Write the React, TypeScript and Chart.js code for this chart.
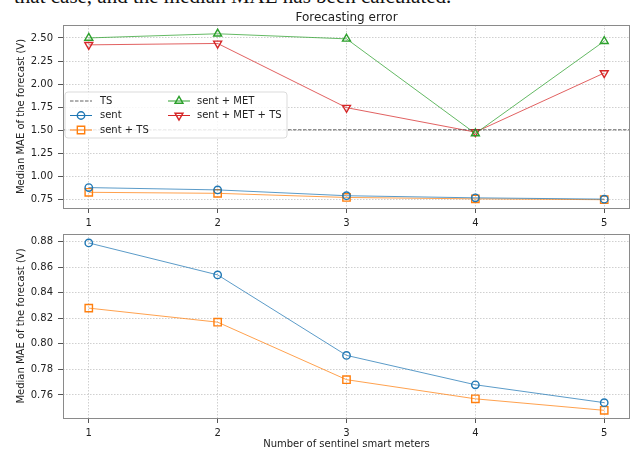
import React, { useEffect, useRef } from 'react';
import { Chart, registerables } from 'chart.js';

Chart.register(...registerables);

// ---- data ----
const xValues = [1, 2, 3, 4, 5];
const sentValues = [0.879, 0.854, 0.791, 0.768, 0.754];
const sentTsValues = [0.828, 0.817, 0.772, 0.757, 0.748];
const sentMetValues = [2.5, 2.545, 2.49, 1.465, 2.465];
const sentMetTsValues = [2.425, 2.44, 1.745, 1.48, 2.12];
const tsValue = 1.505;

const xTicks = [1, 2, 3, 4, 5];
const topYTicks = [0.75, 1.0, 1.25, 1.5, 1.75, 2.0, 2.25, 2.5];
const bottomYTicks = [0.76, 0.78, 0.8, 0.82, 0.84, 0.86, 0.88];

const xRange = [0.8, 5.2];
const topYRange = [0.658, 2.64];
const bottomYRange = [0.742, 0.886];

const titleText = 'Forecasting error';
const yTitleText = 'Median MAE of the forecast (V)';
const xTitleText = 'Number of sentinel smart meters';
const captionText = 'that case, and the median MAE has been calculated.';

const labels = {
  ts: 'TS',
  sent: 'sent',
  sentTs: 'sent + TS',
  sentMet: 'sent + MET',
  sentMetTs: 'sent + MET + TS',
};

const COLORS = {
  blue: '#1f77b4',
  orange: '#ff7f0e',
  green: '#2ca02c',
  red: '#d62728',
  gray: 'rgba(70,70,70,0.85)',
};

const FONT = 'DejaVu Sans';

const toPts = (ys: number[]) => xValues.map((x, i) => ({ x, y: ys[i] }));

function series(label: string, ys: number[], color: string, style: string, radius: number, rotation = 0) {
  return {
    label,
    data: toPts(ys),
    borderColor: color + 'bb',
    borderWidth: 1,
    pointStyle: style,
    pointRadius: radius,
    pointRotation: rotation,
    pointBorderColor: color,
    pointBorderWidth: 1.4,
    pointBackgroundColor: 'rgba(0,0,0,0)',
    tension: 0,
    clip: 8,
  };
}

type LegendEntry = { label: string; color: string; style: string; dashed?: boolean; rotation?: number; radius?: number };

const legendCol1: LegendEntry[] = [
  { label: labels.ts, color: COLORS.gray, style: 'none', dashed: true },
  { label: labels.sent, color: COLORS.blue, style: 'circle', radius: 3.7 },
  { label: labels.sentTs, color: COLORS.orange, style: 'rect', radius: 5.2 },
];
const legendCol2: LegendEntry[] = [
  { label: labels.sentMet, color: COLORS.green, style: 'triangle', radius: 4.6 },
  { label: labels.sentMetTs, color: COLORS.red, style: 'triangle', radius: 4.6, rotation: 180 },
];

function drawMarker(ctx: CanvasRenderingContext2D, style: string, radius: number, rotation: number, x: number, y: number) {
  ctx.beginPath();
  if (style === 'circle') {
    ctx.arc(x, y, radius, 0, Math.PI * 2);
  } else if (style === 'rect') {
    const s = Math.SQRT1_2 * radius;
    ctx.rect(x - s, y - s, 2 * s, 2 * s);
  } else if (style === 'triangle') {
    let ang = (rotation * Math.PI) / 180;
    ctx.moveTo(x + Math.sin(ang) * radius, y - Math.cos(ang) * radius);
    ang += (2 * Math.PI) / 3;
    ctx.lineTo(x + Math.sin(ang) * radius, y - Math.cos(ang) * radius);
    ang += (2 * Math.PI) / 3;
    ctx.lineTo(x + Math.sin(ang) * radius, y - Math.cos(ang) * radius);
    ctx.closePath();
  }
  ctx.stroke();
}

function framePlugin(id: string) {
  return {
    id,
    afterDatasetsDraw(chart: any) {
      const { ctx, chartArea: a } = chart;
      ctx.save();
      ctx.strokeStyle = '#8a8a8a';
      ctx.lineWidth = 1;
      ctx.strokeRect(Math.round(a.left) + 0.5, Math.round(a.top) + 0.5, Math.round(a.right - a.left) - 1, Math.round(a.bottom - a.top));
      ctx.restore();
    },
  };
}

const titlePlugin = {
  id: 'topTitle',
  afterDraw(chart: any) {
    const { ctx, chartArea: a } = chart;
    ctx.save();
    ctx.font = `12px "${FONT}"`;
    ctx.fillStyle = '#222';
    ctx.textAlign = 'center';
    ctx.textBaseline = 'middle';
    ctx.fillText(titleText, (a.left + a.right) / 2, a.top - 7);
    ctx.restore();
  },
};

const legendPlugin = {
  id: 'innerLegend',
  afterDatasetsDraw(chart: any) {
    const { ctx, chartArea: a } = chart;
    const left = a.left + 2;
    const top = a.top + 67;
    const w = 222;
    const h = 46;
    ctx.save();
    ctx.beginPath();
    const r = 3;
    ctx.moveTo(left + r, top);
    ctx.arcTo(left + w, top, left + w, top + h, r);
    ctx.arcTo(left + w, top + h, left, top + h, r);
    ctx.arcTo(left, top + h, left, top, r);
    ctx.arcTo(left, top, left + w, top, r);
    ctx.closePath();
    ctx.fillStyle = 'rgba(255,255,255,0.85)';
    ctx.fill();
    ctx.strokeStyle = 'rgba(215,215,215,0.9)';
    ctx.lineWidth = 1;
    ctx.stroke();

    const drawCol = (entries: LegendEntry[], hx: number, tx: number) => {
      entries.forEach((e, i) => {
        const y = top + 9 + i * 14.5;
        ctx.save();
        ctx.strokeStyle = e.color;
        ctx.lineWidth = 1;
        if (e.dashed) ctx.setLineDash([3.5, 1.5]);
        ctx.beginPath();
        ctx.moveTo(hx, y);
        ctx.lineTo(hx + 22, y);
        ctx.stroke();
        ctx.restore();
        if (e.style !== 'none') {
          ctx.save();
          ctx.strokeStyle = e.color;
          ctx.lineWidth = 1.4;
          drawMarker(ctx, e.style, e.radius || 4, e.rotation || 0, hx + 11, y);
          ctx.restore();
        }
        ctx.save();
        ctx.font = `10px "${FONT}"`;
        ctx.fillStyle = '#222';
        ctx.textBaseline = 'middle';
        ctx.textAlign = 'left';
        ctx.fillText(e.label, tx, y);
        ctx.restore();
      });
    };
    drawCol(legendCol1, left + 5, left + 35);
    drawCol(legendCol2, left + 103, left + 132);
    ctx.restore();
  },
};

function makeOptions(opts: {
  yTicks: number[];
  yRange: number[];
  padTop: number;
  xAxisHeight: number;
  showXTitle: boolean;
}) {
  const gridCommon = {
    color: 'rgba(165,165,165,0.65)',
    lineWidth: 0.8,
    borderDash: [1.5, 1.5],
    tickColor: '#555',
    tickLength: 5,
    tickWidth: 1,
    tickBorderDash: [],
    drawTicks: true,
  };
  return {
    responsive: false,
    animation: false as const,
    devicePixelRatio: 1,
    layout: { autoPadding: false, padding: { top: opts.padTop, right: 2, left: 0, bottom: 0 } },
    plugins: { legend: { display: false }, tooltip: { enabled: false }, title: { display: false } },
    scales: {
      x: {
        type: 'linear' as const,
        min: xRange[0],
        max: xRange[1],
        afterBuildTicks: (s: any) => {
          s.ticks = xTicks.map((v) => ({ value: v }));
        },
        afterFit: (s: any) => {
          s.height = opts.xAxisHeight;
          s.paddingLeft = 0;
          s.paddingRight = 0;
        },
        ticks: {
          callback: (v: any) => String(v),
          font: { family: FONT, size: 10 },
          color: '#222',
          padding: 4,
          maxRotation: 0,
        },
        grid: gridCommon,
        border: { display: false, dash: [1.5, 1.5] },
        title: {
          display: opts.showXTitle,
          text: xTitleText,
          font: { family: FONT, size: 10 },
          color: '#222',
          padding: { top: 0, bottom: 0 },
        },
      },
      y: {
        type: 'linear' as const,
        min: opts.yRange[0],
        max: opts.yRange[1],
        afterBuildTicks: (s: any) => {
          s.ticks = opts.yTicks.map((v) => ({ value: v }));
        },
        afterFit: (s: any) => {
          s.width = 63;
          s.paddingTop = 0;
          s.paddingBottom = 0;
        },
        ticks: {
          callback: (v: any) => Number(v).toFixed(2),
          font: { family: FONT, size: 10 },
          color: '#222',
          padding: 5,
        },
        grid: gridCommon,
        border: { display: false, dash: [1.5, 1.5] },
        title: {
          display: true,
          text: yTitleText,
          font: { family: FONT, size: 10 },
          color: '#222',
          padding: { top: 15, bottom: 0 },
        },
      },
    },
  };
}

export default function App() {
  const topRef = useRef<HTMLCanvasElement>(null);
  const botRef = useRef<HTMLCanvasElement>(null);

  useEffect(() => {
    const top = new Chart(topRef.current!, {
      type: 'line',
      data: {
        datasets: [
          {
            label: labels.ts,
            data: [
              { x: xRange[0], y: tsValue },
              { x: xRange[1], y: tsValue },
            ],
            borderColor: COLORS.gray,
            borderWidth: 1,
            borderDash: [3.5, 1.5],
            pointRadius: 0,
          },
          series(labels.sent, sentValues, COLORS.blue, 'circle', 3.7),
          series(labels.sentTs, sentTsValues, COLORS.orange, 'rect', 5.2),
          series(labels.sentMet, sentMetValues, COLORS.green, 'triangle', 4.6),
          series(labels.sentMetTs, sentMetTsValues, COLORS.red, 'triangle', 4.6, 180),
        ] as any,
      },
      options: makeOptions({ yTicks: topYTicks, yRange: topYRange, padTop: 25, xAxisHeight: 20, showXTitle: false }) as any,
      plugins: [framePlugin('frameTop'), legendPlugin, titlePlugin],
    });
    const bot = new Chart(botRef.current!, {
      type: 'line',
      data: {
        datasets: [
          series(labels.sent, sentValues, COLORS.blue, 'circle', 3.7),
          series(labels.sentTs, sentTsValues, COLORS.orange, 'rect', 5.2),
        ] as any,
      },
      options: makeOptions({ yTicks: bottomYTicks, yRange: bottomYRange, padTop: 6, xAxisHeight: 32, showXTitle: true }) as any,
      plugins: [framePlugin('frameBot')],
    });
    return () => {
      top.destroy();
      bot.destroy();
    };
  }, []);

  return (
    <div style={{ position: 'absolute', left: 0, top: 0, width: 632, height: 450, background: '#fff', overflow: 'hidden' }}>
      <div
        style={{
          position: 'absolute',
          left: 14,
          top: -14,
          fontFamily: '"Liberation Serif", serif',
          fontSize: 21,
          lineHeight: '21px',
          whiteSpace: 'nowrap',
          color: '#111',
        }}
      >
        {captionText}
      </div>
      <canvas ref={topRef} width={632} height={228} style={{ position: 'absolute', left: 0, top: 0, display: 'block' }} />
      <canvas ref={botRef} width={632} height={222} style={{ position: 'absolute', left: 0, top: 228, display: 'block' }} />
    </div>
  );
}
